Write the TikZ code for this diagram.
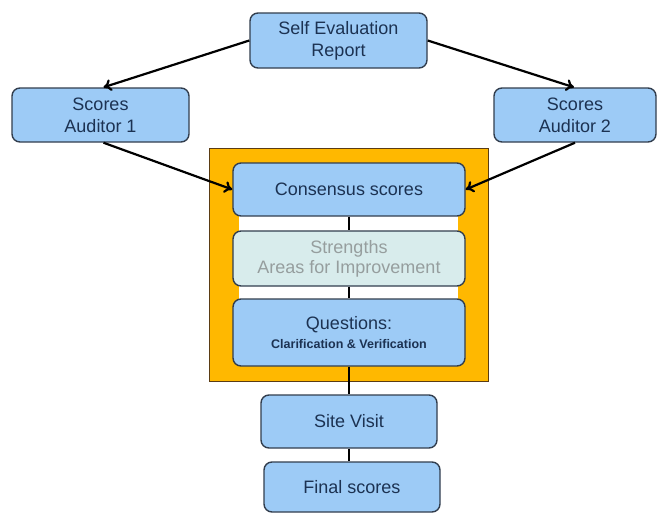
\documentclass[tikz,border=0pt]{standalone}
\usepackage{fontspec}
\setmainfont{Liberation Sans}
\usetikzlibrary{arrows.meta}
\definecolor{boxblue}{RGB}{157,203,246}
\definecolor{boxedge}{RGB}{50,62,78}
\definecolor{txtblue}{RGB}{28,50,82}
\definecolor{paleblue}{RGB}{216,236,236}
\definecolor{paletxt}{RGB}{150,158,158}
\definecolor{frameorange}{RGB}{255,184,0}
\definecolor{framebrown}{RGB}{90,60,20}
\tikzset{
  stepnode/.style={draw=boxedge, line width=1.4pt, fill=boxblue, rounded corners=8pt,
    text=txtblue, align=center, font=\fontsize{18}{22}\selectfont},
  link/.style={line width=2.2pt, black},
  feed/.style={link, -{To[length=8pt,width=12pt]}}
}
\begin{document}
\begin{tikzpicture}[x=1pt,y=-1pt]
      \useasboundingbox (0,0) rectangle (659,514);
      \fill[white] (0,0) rectangle (659,514);
      % frame round the consensus stage
      \filldraw[fill=frameorange, draw=framebrown, line width=1pt] (209,148) rectangle (488,381);
      \fill[white] (239,190) rectangle (458,340);
      \node[stepnode, minimum width=177pt, minimum height=55pt] (report) at (338.5,40.5) {Self Evaluation\\Report};
      \node[stepnode, minimum width=177pt, minimum height=54pt] (aud1) at (100.5,115) {Scores\\Auditor 1};
      \node[stepnode, minimum width=162pt, minimum height=54pt] (aud2) at (575,115) {Scores\\Auditor 2};
      \node[stepnode, minimum width=232pt, minimum height=53pt] (consensus) at (349,189.5) {Consensus scores};
      \node[stepnode, fill=paleblue, text=paletxt, minimum width=232pt, minimum height=55pt,
        font=\fontsize{18}{20}\selectfont] (strengths) at (349,258.5) {Strengths\\Areas for Improvement};
      \node[stepnode, minimum width=232pt, minimum height=67pt] (questions) at (349,332.5)
        {Questions:\\[-3pt]{\fontsize{12.5}{14}\selectfont\bfseries Clarification \& Verification}};
      \node[stepnode, minimum width=176pt, minimum height=53pt] (visit) at (349,421.5) {Site Visit};
      \node[stepnode, minimum width=176pt, minimum height=50pt] (final) at (352,487) {Final scores};
      % arrows
      \draw[feed] (report.west) -- ([xshift=3pt]aud1.north);
      \draw[feed] (report.east) -- ([xshift=-1pt]aud2.north);
      \draw[feed] ([xshift=3pt]aud1.south) -- (consensus.west);
      \draw[feed] (aud2.south) -- (consensus.east);
      % plain links down the stack
      \draw[link] (consensus) -- (strengths);
      \draw[link] (strengths) -- (questions);
      \draw[link] (questions) -- (visit);
      \draw[link] (visit) -- (final.north -| visit);
    \end{tikzpicture}
\end{document}
